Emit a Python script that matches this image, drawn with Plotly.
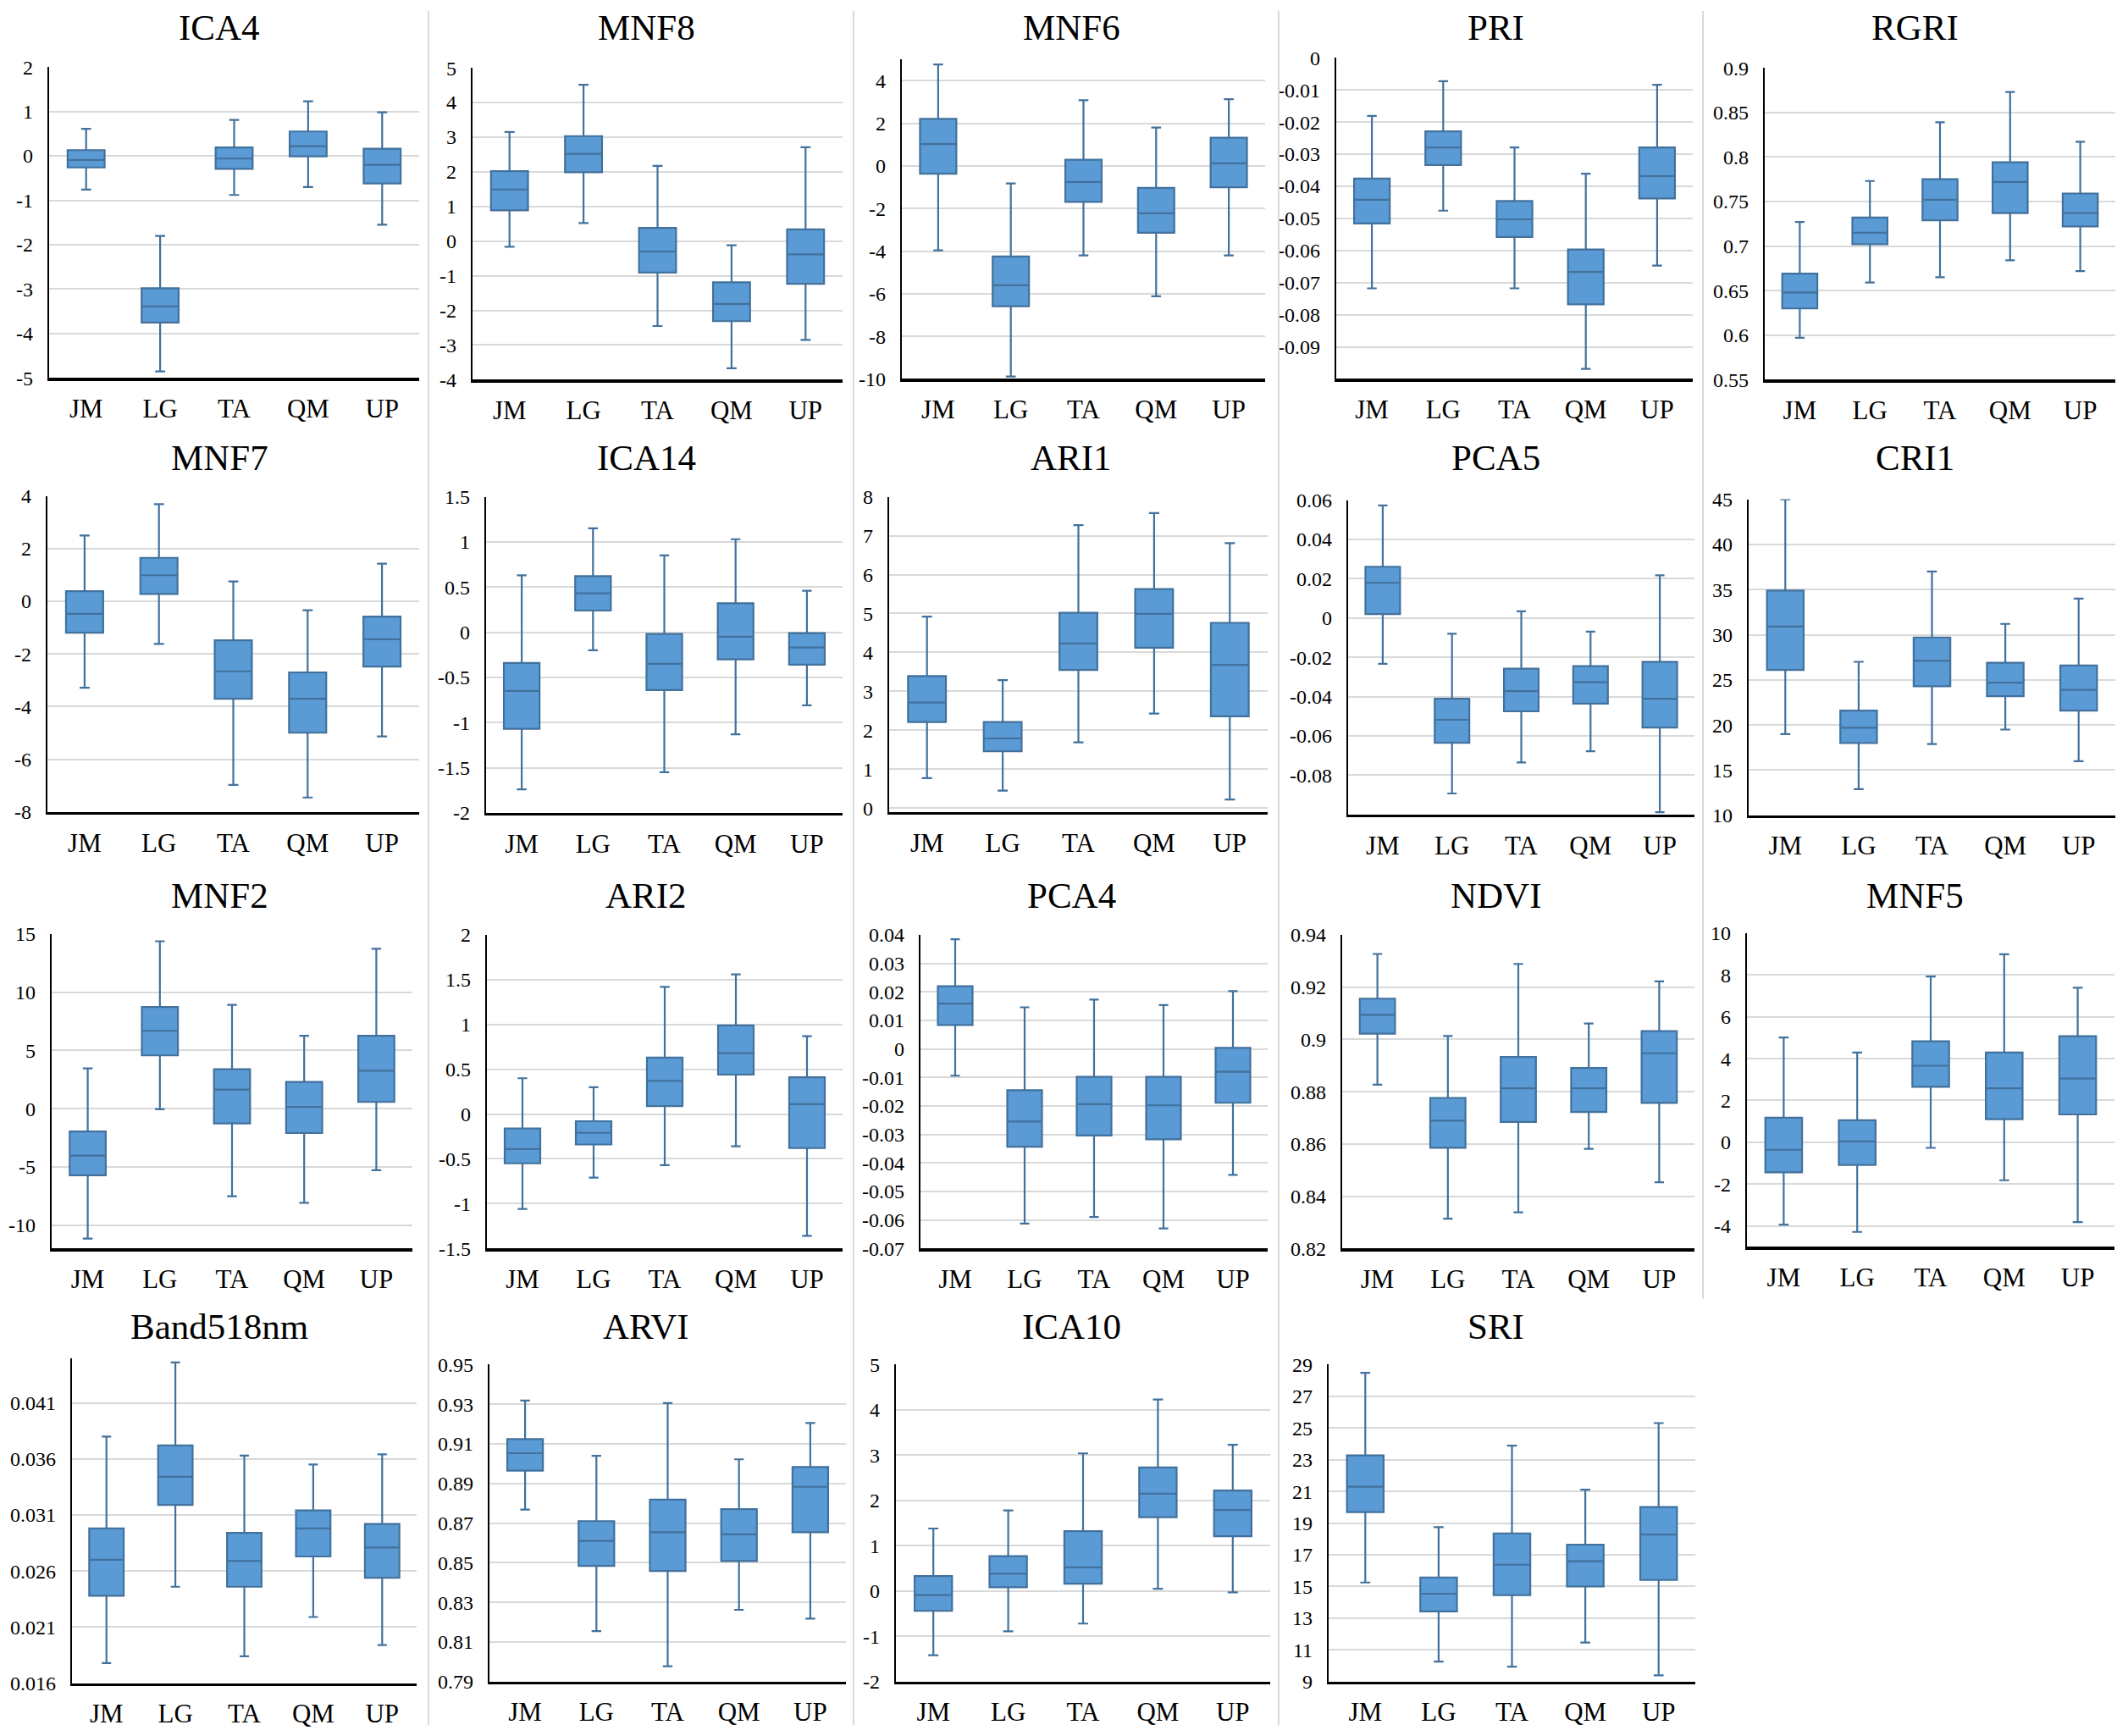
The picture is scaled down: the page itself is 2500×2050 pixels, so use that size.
import plotly.graph_objects as go

W, H = 2500, 2050
FONT = "Liberation Serif, Times New Roman, DejaVu Serif, serif"

categories = ["JM", "LG", "TA", "QM", "UP"]

# ---- statistics per panel: lo (lower whisker), q1, med, q3, hi (upper whisker) ----
ICA4_lo = [-0.76, -4.85, -0.88, -0.70, -1.55]
ICA4_q1 = [-0.26, -3.75, -0.29, -0.01, -0.62]
ICA4_med = [-0.09, -3.39, -0.06, 0.22, -0.20]
ICA4_q3 = [0.13, -2.98, 0.19, 0.55, 0.16]
ICA4_hi = [0.61, -1.80, 0.81, 1.23, 0.98]
ICA4_ticks = [-5, -4, -3, -2, -1, 0, 1, 2]

MNF8_lo = [-0.16, 0.52, -2.45, -3.67, -2.85]
MNF8_q1 = [0.89, 1.99, -0.91, -2.31, -1.23]
MNF8_med = [1.49, 2.52, -0.30, -1.81, -0.38]
MNF8_q3 = [2.02, 3.03, 0.38, -1.19, 0.34]
MNF8_hi = [3.15, 4.51, 2.17, -0.12, 2.71]
MNF8_ticks = [-4, -3, -2, -1, 0, 1, 2, 3, 4, 5]

MNF6_lo = [-3.96, -9.89, -4.20, -6.12, -4.20]
MNF6_q1 = [-0.36, -6.59, -1.69, -3.14, -1.00]
MNF6_med = [1.03, -5.60, -0.75, -2.22, 0.12]
MNF6_q3 = [2.21, -4.25, 0.29, -1.03, 1.33]
MNF6_hi = [4.77, -0.82, 3.09, 1.80, 3.14]
MNF6_ticks = [-10, -8, -6, -4, -2, 0, 2, 4]

PRI_lo = [-0.0718, -0.0476, -0.0718, -0.0969, -0.0647]
PRI_q1 = [-0.0516, -0.0334, -0.0558, -0.0768, -0.0438]
PRI_med = [-0.0442, -0.0279, -0.0503, -0.0667, -0.0368]
PRI_q3 = [-0.0376, -0.0229, -0.0446, -0.0597, -0.0279]
PRI_hi = [-0.0181, -0.0073, -0.0279, -0.0361, -0.0084]
PRI_ticks = [-0.09, -0.08, -0.07, -0.06, -0.05, -0.04, -0.03, -0.02, -0.01, 0]

RGRI_lo = [0.597, 0.659, 0.665, 0.684, 0.672]
RGRI_q1 = [0.630, 0.702, 0.729, 0.737, 0.722]
RGRI_med = [0.648, 0.715, 0.752, 0.772, 0.737]
RGRI_q3 = [0.669, 0.732, 0.775, 0.794, 0.759]
RGRI_hi = [0.727, 0.773, 0.839, 0.873, 0.817]
RGRI_ticks = [0.55, 0.6, 0.65, 0.7, 0.75, 0.8, 0.85, 0.9]

MNF7_lo = [-3.28, -1.62, -6.97, -7.45, -5.13]
MNF7_q1 = [-1.19, 0.28, -3.70, -4.99, -2.48]
MNF7_med = [-0.48, 0.99, -2.66, -3.70, -1.44]
MNF7_q3 = [0.38, 1.65, -1.48, -2.70, -0.58]
MNF7_hi = [2.50, 3.69, 0.75, -0.34, 1.43]
MNF7_ticks = [-8, -6, -4, -2, 0, 2, 4]

ICA14_lo = [-1.74, -0.20, -1.55, -1.13, -0.81]
ICA14_q1 = [-1.07, 0.24, -0.64, -0.30, -0.36]
ICA14_med = [-0.65, 0.43, -0.35, -0.05, -0.17]
ICA14_q3 = [-0.34, 0.62, -0.02, 0.32, -0.01]
ICA14_hi = [0.63, 1.15, 0.85, 1.03, 0.46]
ICA14_ticks = [-2, -1.5, -1, -0.5, 0, 0.5, 1, 1.5]

ARI1_lo = [0.77, 0.45, 1.69, 2.43, 0.22]
ARI1_q1 = [2.21, 1.46, 3.55, 4.12, 2.36]
ARI1_med = [2.71, 1.79, 4.23, 4.99, 3.68]
ARI1_q3 = [3.39, 2.21, 5.02, 5.63, 4.76]
ARI1_hi = [4.92, 3.29, 7.27, 7.58, 6.81]
ARI1_ticks = [0, 1, 2, 3, 4, 5, 6, 7, 8]

PCA5_lo = [-0.0233, -0.0893, -0.0735, -0.0678, -0.0988]
PCA5_q1 = [0.0020, -0.0635, -0.0475, -0.0436, -0.0557]
PCA5_med = [0.0179, -0.0518, -0.0372, -0.0327, -0.0411]
PCA5_q3 = [0.0261, -0.0411, -0.0258, -0.0245, -0.0223]
PCA5_hi = [0.0573, -0.0080, 0.0034, -0.0069, 0.0217]
PCA5_ticks = [-0.08, -0.06, -0.04, -0.02, 0, 0.02, 0.04, 0.06]

CRI1_lo = [19.0, 12.9, 17.9, 19.5, 16.0]
CRI1_q1 = [26.1, 18.0, 24.3, 23.2, 21.6]
CRI1_med = [30.9, 19.7, 27.1, 24.7, 23.9]
CRI1_q3 = [34.9, 21.6, 29.7, 26.9, 26.6]
CRI1_hi = [45.0, 27.0, 37.0, 31.2, 34.0]
CRI1_ticks = [10, 15, 20, 25, 30, 35, 40, 45]

MNF2_lo = [-11.15, -0.05, -7.52, -8.08, -5.29]
MNF2_q1 = [-5.72, 4.58, -1.26, -2.09, 0.58]
MNF2_med = [-4.03, 6.69, 1.65, 0.15, 3.27]
MNF2_q3 = [-1.96, 8.73, 3.39, 2.30, 6.26]
MNF2_hi = [3.47, 14.38, 8.92, 6.26, 13.73]
MNF2_ticks = [-10, -5, 0, 5, 10, 15]

ARI2_lo = [-1.06, -0.71, -0.57, -0.36, -1.36]
ARI2_q1 = [-0.55, -0.34, 0.09, 0.44, -0.38]
ARI2_med = [-0.39, -0.21, 0.37, 0.68, 0.11]
ARI2_q3 = [-0.16, -0.08, 0.63, 0.99, 0.41]
ARI2_hi = [0.40, 0.30, 1.42, 1.56, 0.87]
ARI2_ticks = [-1.5, -1, -0.5, 0, 0.5, 1, 1.5, 2]

PCA4_lo = [-0.0094, -0.0613, -0.0590, -0.0630, -0.0442]
PCA4_q1 = [0.0084, -0.0343, -0.0304, -0.0317, -0.0189]
PCA4_med = [0.0159, -0.0255, -0.0194, -0.0198, -0.0080]
PCA4_q3 = [0.0220, -0.0145, -0.0098, -0.0098, 0.0004]
PCA4_hi = [0.0385, 0.0146, 0.0173, 0.0154, 0.0203]
PCA4_ticks = [-0.07, -0.06, -0.05, -0.04, -0.03, -0.02, -0.01, 0, 0.01, 0.02, 0.03, 0.04]

NDVI_lo = [0.8827, 0.8314, 0.8338, 0.8581, 0.8453]
NDVI_q1 = [0.9022, 0.8585, 0.8684, 0.8722, 0.8757]
NDVI_med = [0.9094, 0.8689, 0.8813, 0.8813, 0.8947]
NDVI_q3 = [0.9156, 0.8776, 0.8933, 0.8891, 0.9032]
NDVI_hi = [0.9327, 0.9013, 0.9289, 0.9061, 0.9222]
NDVI_ticks = [0.82, 0.84, 0.86, 0.88, 0.9, 0.92, 0.94]

MNF5_lo = [-3.94, -4.29, -0.27, -1.82, -3.82]
MNF5_q1 = [-1.44, -1.09, 2.65, 1.10, 1.33]
MNF5_med = [-0.36, 0.04, 3.66, 2.58, 3.05]
MNF5_q3 = [1.17, 1.05, 4.83, 4.29, 5.07]
MNF5_hi = [5.01, 4.29, 7.93, 8.99, 7.39]
MNF5_ticks = [-4, -2, 0, 2, 4, 6, 8, 10]

BAND518_lo = [0.0178, 0.0246, 0.0184, 0.0219, 0.0194]
BAND518_q1 = [0.0238, 0.0319, 0.0246, 0.0273, 0.0254]
BAND518_med = [0.0270, 0.0344, 0.0269, 0.0298, 0.0281]
BAND518_q3 = [0.0298, 0.0372, 0.0294, 0.0314, 0.0302]
BAND518_hi = [0.0380, 0.0446, 0.0363, 0.0355, 0.0364]
BAND518_ticks = [0.016, 0.021, 0.026, 0.031, 0.036, 0.041]

ARVI_lo = [0.8768, 0.8155, 0.7977, 0.8262, 0.8218]
ARVI_q1 = [0.8965, 0.8484, 0.8458, 0.8508, 0.8654]
ARVI_med = [0.9053, 0.8610, 0.8654, 0.8643, 0.8883]
ARVI_q3 = [0.9124, 0.8710, 0.8818, 0.8770, 0.8983]
ARVI_hi = [0.9319, 0.9040, 0.9306, 0.9022, 0.9205]
ARVI_ticks = [0.79, 0.81, 0.83, 0.85, 0.87, 0.89, 0.91, 0.93, 0.95]

ICA10_lo = [-1.42, -0.89, -0.72, 0.05, -0.03]
ICA10_q1 = [-0.44, 0.08, 0.16, 1.63, 1.21]
ICA10_med = [-0.09, 0.38, 0.52, 2.15, 1.79]
ICA10_q3 = [0.33, 0.77, 1.32, 2.73, 2.22]
ICA10_hi = [1.38, 1.78, 3.04, 4.23, 3.23]
ICA10_ticks = [-2, -1, 0, 1, 2, 3, 4, 5]

SRI_lo = [15.25, 10.26, 9.94, 11.46, 9.39]
SRI_q1 = [19.69, 13.43, 14.45, 15.00, 15.41]
SRI_med = [21.29, 14.54, 16.37, 16.59, 18.28]
SRI_q3 = [23.27, 15.57, 18.35, 17.64, 20.01]
SRI_hi = [28.48, 18.74, 23.89, 21.11, 25.31]
SRI_ticks = [9, 11, 13, 15, 17, 19, 21, 23, 25, 27, 29]

# ---- panel layout: title, stats, ticks, y-range, plot box in pixels [left, right, top, bottom], row, col ----
panels = [
    ("ICA4", (ICA4_lo, ICA4_q1, ICA4_med, ICA4_q3, ICA4_hi), ICA4_ticks, [-5, 2], [58, 495, 67, 439], 0, 0),
    ("MNF8", (MNF8_lo, MNF8_q1, MNF8_med, MNF8_q3, MNF8_hi), MNF8_ticks, [-4, 5], [558, 995, 68, 441], 0, 1),
    ("MNF6", (MNF6_lo, MNF6_q1, MNF6_med, MNF6_q3, MNF6_hi), MNF6_ticks, [-10, 5], [1065, 1494, 58, 440], 0, 2),
    ("PRI", (PRI_lo, PRI_q1, PRI_med, PRI_q3, PRI_hi), PRI_ticks, [-0.1, 0], [1578, 1999, 56, 440], 0, 3),
    ("RGRI", (RGRI_lo, RGRI_q1, RGRI_med, RGRI_q3, RGRI_hi), RGRI_ticks, [0.55, 0.9], [2084, 2498, 68, 441], 0, 4),
    ("MNF7", (MNF7_lo, MNF7_q1, MNF7_med, MNF7_q3, MNF7_hi), MNF7_ticks, [-8, 4], [56, 495, 580, 958], 1, 0),
    ("ICA14", (ICA14_lo, ICA14_q1, ICA14_med, ICA14_q3, ICA14_hi), ICA14_ticks, [-2, 1.5], [574, 995, 581, 959], 1, 1),
    ("ARI1", (ARI1_lo, ARI1_q1, ARI1_med, ARI1_q3, ARI1_hi), ARI1_ticks, [-0.1, 8], [1050, 1497, 581, 958], 1, 2),
    ("PCA5", (PCA5_lo, PCA5_q1, PCA5_med, PCA5_q3, PCA5_hi), PCA5_ticks, [-0.1, 0.06], [1592, 2001, 585, 961], 1, 3),
    ("CRI1", (CRI1_lo, CRI1_q1, CRI1_med, CRI1_q3, CRI1_hi), CRI1_ticks, [10, 45], [2065, 2498, 584, 962], 1, 4),
    ("MNF2", (MNF2_lo, MNF2_q1, MNF2_med, MNF2_q3, MNF2_hi), MNF2_ticks, [-12, 15], [61, 487, 1104, 1480], 2, 0),
    ("ARI2", (ARI2_lo, ARI2_q1, ARI2_med, ARI2_q3, ARI2_hi), ARI2_ticks, [-1.5, 2], [575, 995, 1105, 1480], 2, 1),
    ("PCA4", (PCA4_lo, PCA4_q1, PCA4_med, PCA4_q3, PCA4_hi), PCA4_ticks, [-0.07, 0.04], [1087, 1497, 1105, 1480], 2, 2),
    ("NDVI", (NDVI_lo, NDVI_q1, NDVI_med, NDVI_q3, NDVI_hi), NDVI_ticks, [0.82, 0.94], [1585, 2001, 1105, 1480], 2, 3),
    ("MNF5", (MNF5_lo, MNF5_q1, MNF5_med, MNF5_q3, MNF5_hi), MNF5_ticks, [-5, 10], [2063, 2497, 1103, 1478], 2, 4),
    ("Band518nm", (BAND518_lo, BAND518_q1, BAND518_med, BAND518_q3, BAND518_hi), BAND518_ticks, [0.016, 0.045], [85, 492, 1611, 2000], 3, 0),
    ("ARVI", (ARVI_lo, ARVI_q1, ARVI_med, ARVI_q3, ARVI_hi), ARVI_ticks, [0.79, 0.95], [578, 999, 1619, 1998], 3, 1),
    ("ICA10", (ICA10_lo, ICA10_q1, ICA10_med, ICA10_q3, ICA10_hi), ICA10_ticks, [-2, 5], [1058, 1500, 1619, 1998], 3, 2),
    ("SRI", (SRI_lo, SRI_q1, SRI_med, SRI_q3, SRI_hi), SRI_ticks, [9, 29], [1569, 2002, 1619, 1998], 3, 3),
]

col_edges = [0, 506, 1008, 1510, 2011, 2500]
title_y = [20, 534, 1058, 1573]
sep4_end = 1540


def fmt(v):
    s = f"{round(v, 6):g}"
    return "0" if s == "-0" else s


fig = go.Figure()
layout = dict(
    width=W, height=H,
    margin=dict(l=0, r=0, t=0, b=0),
    paper_bgcolor="white", plot_bgcolor="white",
    showlegend=False,
    font=dict(family=FONT, color="black"),
)
annotations = []
shapes = []

for i, (name, stats, ticks, yr, box, row, col) in enumerate(panels, start=1):
    lo, q1, med, q3, hi = stats
    xa = "x" if i == 1 else f"x{i}"
    ya = "y" if i == 1 else f"y{i}"
    fig.add_trace(go.Box(
        x=categories, lowerfence=lo, q1=q1, median=med, q3=q3, upperfence=hi,
        fillcolor="#5B9BD5", line=dict(color="#41719C", width=2.2),
        width=0.5, whiskerwidth=0.27, boxpoints=False,
        xaxis=xa, yaxis=ya, hoverinfo="skip",
    ))
    l, r, t, b = box
    xkey = "xaxis" if i == 1 else f"xaxis{i}"
    ykey = "yaxis" if i == 1 else f"yaxis{i}"
    layout[xkey] = dict(
        domain=[l / W, r / W], anchor=ya, type="category",
        categoryorder="array", categoryarray=categories,
        range=[-0.5, 4.5], showgrid=False, zeroline=False,
        showline=True, linecolor="black", linewidth=3.5,
        ticks="", ticklabelstandoff=6,
        tickfont=dict(family=FONT, size=31, color="black"),
        fixedrange=True,
    )
    layout[ykey] = dict(
        domain=[1 - b / H, 1 - t / H], anchor=xa, range=yr,
        tickmode="array", tickvals=ticks, ticktext=[fmt(v) for v in ticks],
        showgrid=True, gridcolor="#D9D9D9", gridwidth=2, zeroline=False,
        showline=True, linecolor="black", linewidth=2.2,
        ticks="", ticklabelstandoff=12,
        tickfont=dict(family=FONT, size=24, color="black"),
        fixedrange=True,
    )
    cx = (col_edges[col] + col_edges[col + 1]) / 2 + 6
    annotations.append(dict(
        text=name, x=cx / W, y=1 - title_y[row] / H, xref="paper", yref="paper",
        xanchor="center", yanchor="middle", showarrow=False,
        font=dict(family=FONT, size=43, color="black"),
    ))

# thin grey separators between panels
for j, xe in enumerate(col_edges[1:-1]):
    y_end = sep4_end if j == 3 else H
    shapes.append(dict(type="line", xref="paper", yref="paper",
                       x0=xe / W, x1=xe / W, y0=1, y1=1 - y_end / H,
                       line=dict(color="#D9D9D9", width=2)))

layout["annotations"] = annotations
layout["shapes"] = shapes
fig.update_layout(**layout)
fig.write_html(
    "out.html",
    config={"displayModeBar": False, "staticPlot": True},
    post_script="document.body.style.margin='0';document.body.style.overflow='hidden';",
)
